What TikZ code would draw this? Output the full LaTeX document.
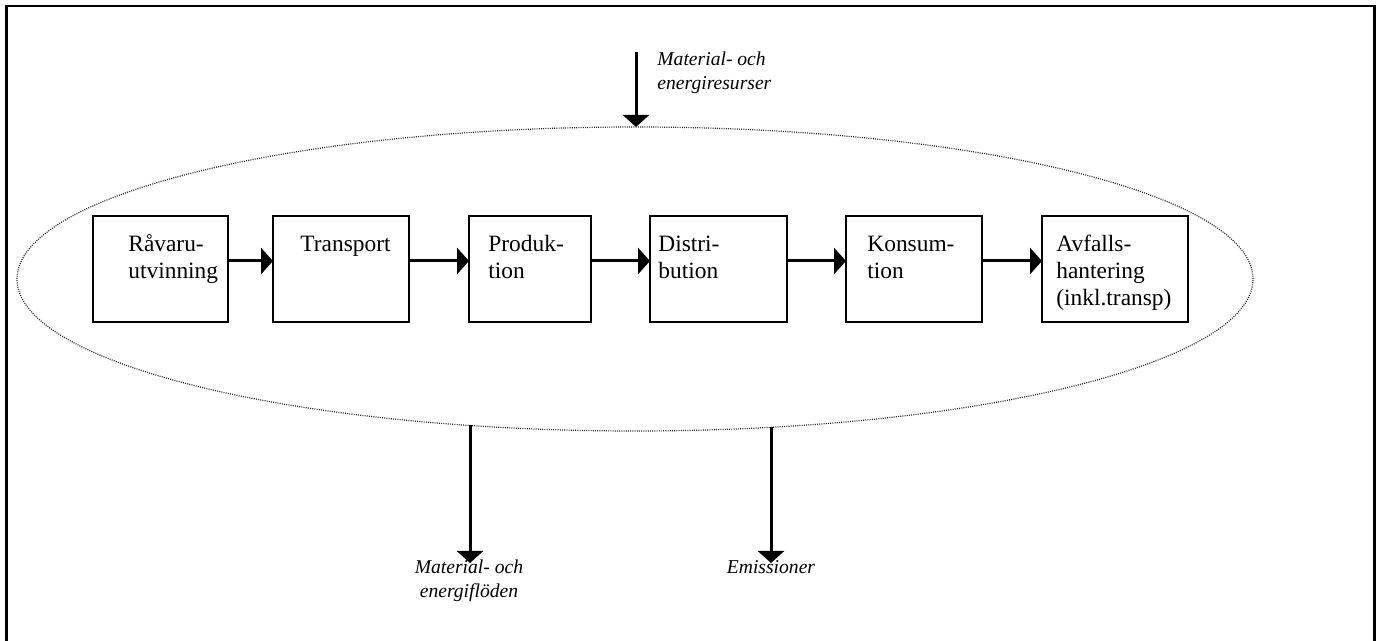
\documentclass[tikz,border=0pt]{standalone}
\usepackage{fontspec}
\setmainfont{Liberation Serif}
\usetikzlibrary{arrows.meta,shapes.geometric,calc}
\newcommand\stack[2][l]{\begin{tabular}[t]{@{}#1@{}}#2\end{tabular}}
\begin{document}
\begin{tikzpicture}[x=0.5pt,y=-0.5pt,
  stage/.style={draw,line width=1.1pt,rectangle,minimum height=53pt,inner sep=0pt,outer sep=0pt},
  stagetext/.style={anchor=base west,inner sep=0pt,font=\fontsize{11.7}{13.5}\selectfont},
  flowlabel/.style={inner sep=0pt,font=\fontsize{9.8}{11.8}\selectfont\itshape},
  flow/.style={line width=1.5pt,-{Triangle[length=6pt,width=13pt]}},
  boundary/.style={ellipse,draw=black!85,line width=0.6pt,dash pattern=on 0.5pt off 0.6pt,inner sep=0pt,outer sep=0pt}]
  \useasboundingbox (0,0) rectangle (1378,641);
  % outer frame (bottom edge lies below the page)
  \draw[line width=1.1pt] (6.5,641) -- (6.5,6) -- (1374.5,6) -- (1374.5,641);

  % system boundary
  \node[boundary,minimum width=618pt,minimum height=152pt] (ell) at (635,279) {};

  % life-cycle stages
  \node[stage,minimum width=67.5pt] (b1) at (160.5,269) {};
  \node[stage,minimum width=68pt]   (b2) at (341,269) {};
  \node[stage,minimum width=61pt]   (b3) at (530,269) {};
  \node[stage,minimum width=68.5pt] (b4) at (718.5,269) {};
  \node[stage,minimum width=68pt]   (b5) at (914,269) {};
  \node[stage,minimum width=73pt]   (b6) at (1115,269) {};

  \node[stagetext] (t1) at (128,252) {\stack{Råvaru-\\utvinning}};
  \node[stagetext] (t2) at (300,252) {Transport};
  \node[stagetext] (t3) at (488,252) {\stack{Produk-\\tion}};
  \node[stagetext] (t4) at (658,252) {\stack{Distri-\\bution}};
  \node[stagetext] (t5) at (867,252) {\stack{Konsum-\\tion}};
  \node[stagetext] (t6) at (1056,252) {\stack{Avfalls-\\hantering\\(inkl.transp)}};

  % flow between stages
  \coordinate (row) at (0,261);
  \draw[flow] (b1.east |- row) -- (b2.west |- row);
  \draw[flow] (b2.east |- row) -- (b3.west |- row);
  \draw[flow] (b3.east |- row) -- (b4.west |- row);
  \draw[flow] (b4.east |- row) -- (b5.west |- row);
  \draw[flow] (b5.east |- row) -- (b6.west |- row);

  % inputs
  \coordinate (in) at (636,52);
  \draw[flow] (in) -- (in |- ell.north);
  \node[flowlabel,anchor=base west] (inlab) at (657,66) {\stack{Material- och\\energiresurser}};

  % outputs
  \coordinate (leak1) at ($(ell.center)+(-165,146.5)$);
  \coordinate (leak2) at ($(ell.center)+(136,148.3)$);
  \coordinate (out1) at (470,563);
  \coordinate (out2) at (771,563);
  \draw[flow] (leak1) -- (out1);
  \draw[flow] (leak2) -- (out2);
  \node[flowlabel,anchor=base] (outlab1) at (469,574) {\stack[c]{Material- och\\energiflöden}};
  \node[flowlabel,anchor=base] (outlab2) at (771,574) {Emissioner};
\end{tikzpicture}
\end{document}
